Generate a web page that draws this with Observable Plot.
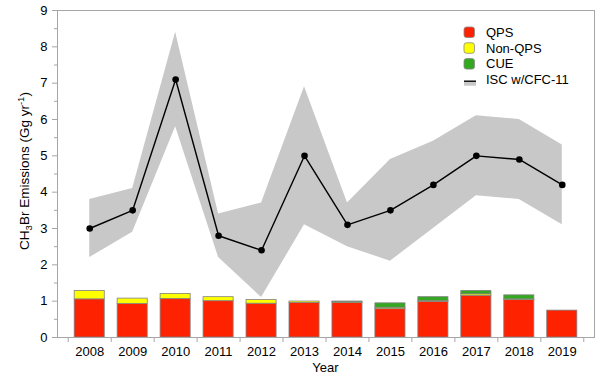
<!DOCTYPE html>
<html>
<head>
<meta charset="utf-8">
<script src="https://cdn.jsdelivr.net/npm/d3@7"></script>
<script src="https://cdn.jsdelivr.net/npm/@observablehq/plot@0.6"></script>
<style>
  html, body { margin: 0; padding: 0; background: #fff; }
  #chart { position: relative; width: 600px; height: 378px; }
</style>
</head>
<body>
<div id="chart"></div>
<script>
const years = [2008, 2009, 2010, 2011, 2012, 2013, 2014, 2015, 2016, 2017, 2018, 2019];
const iscMean = [3.0, 3.5, 7.1, 2.8, 2.4, 5.0, 3.1, 3.5, 4.2, 5.0, 4.9, 4.2];
const iscHigh = [3.8, 4.1, 8.4, 3.4, 3.7, 6.9, 3.7, 4.9, 5.4, 6.1, 6.0, 5.3];
const iscLow  = [2.2, 2.9, 5.8, 2.2, 1.1, 3.1, 2.5, 2.1, 3.0, 3.9, 3.8, 3.1];
const qps     = [1.05, 0.92, 1.06, 1.00, 0.93, 0.95, 0.95, 0.78, 0.98, 1.15, 1.03, 0.74];
const nonQps  = [0.23, 0.15, 0.14, 0.11, 0.10, 0.04, 0.03, 0.04, 0.03, 0.04, 0.02, 0.00];
const cue     = [0.00, 0.00, 0.00, 0.00, 0.00, 0.00, 0.01, 0.12, 0.10, 0.09, 0.11, 0.00];
const categories = ["QPS", "Non-QPS", "CUE"];
const colors = ["#ff2200", "#ffff00", "#33a820"];
const yTicks = [0, 1, 2, 3, 4, 5, 6, 7, 8, 9];

const isc = years.map((y, i) => ({year: y, mean: iscMean[i], lo: iscLow[i], hi: iscHigh[i]}));
const stacked = [];
years.forEach((y, i) => {
  let base = 0;
  [qps[i], nonQps[i], cue[i]].forEach((v, k) => {
    if (v > 0) stacked.push({year: y, type: categories[k], y1: base, y2: base + v});
    base += v;
  });
});
const halfW = 0.35;
const bounds = years.map(y => y - 0.5).concat([years[years.length - 1] + 0.5]);
const minorY = yTicks.slice(0, -1).map(t => t + 0.5);

const plot = Plot.plot({
  width: 600,
  height: 378,
  marginLeft: 57,
  marginRight: 6,
  marginTop: 10,
  marginBottom: 41,
  style: {fontFamily: "'Liberation Sans', Arial, sans-serif", fontSize: "13px", background: "#fff"},
  x: {type: "linear", domain: [2007.25, 2019.75]},
  y: {domain: [0, 9]},
  color: {domain: categories, range: colors},
  marks: [
    Plot.areaY(isc, {x: "year", y1: "lo", y2: "hi", fill: "#c8c8c8"}),
    Plot.line(isc, {x: "year", y: "mean", stroke: "black", strokeWidth: 1.4}),
    Plot.dot(isc, {x: "year", y: "mean", r: 3.3, fill: "black", stroke: "none"}),
    Plot.rect(stacked, {x1: d => d.year - halfW, x2: d => d.year + halfW, y1: "y1", y2: "y2", fill: "type", stroke: "#808080", strokeWidth: 0.8}),
    Plot.frame({stroke: "#a6a6a6"}),
    Plot.axisY({ticks: yTicks, tickSize: 5, tickPadding: 5, stroke: "#a6a6a6", fill: "black", label: null, fontSize: 13}),
    Plot.axisY({ticks: minorY, tickSize: 3, stroke: "#a6a6a6", tickFormat: () => "", label: null}),
    Plot.axisX({ticks: bounds, tickSize: 5, stroke: "#a6a6a6", tickFormat: () => "", label: null}),
    Plot.axisX({ticks: years, tickSize: 0, tickPadding: 9, tickFormat: d => String(d), fill: "black", label: null, fontSize: 13})
  ]
});
document.getElementById("chart").appendChild(plot);

const svg = d3.select(plot);
const font = "'Liberation Sans', Arial, sans-serif";
// x title
svg.append("text").attr("x", 325.5).attr("y", 372).attr("text-anchor", "middle")
  .attr("font-family", font).attr("font-size", 13).attr("fill", "black").text("Year");
// y title with subscript/superscript
const yt = svg.append("text").attr("transform", "translate(29,171) rotate(-90)")
  .attr("text-anchor", "middle").attr("font-family", font).attr("font-size", 13.5).attr("fill", "black");
yt.append("tspan").text("CH");
yt.append("tspan").attr("font-size", 9.5).attr("dy", 3).text("3");
yt.append("tspan").attr("dy", -3).text("Br Emissions (Gg yr");
yt.append("tspan").attr("font-size", 9.5).attr("dy", -5).text("-1");
yt.append("tspan").attr("dy", 5).text(")");

// legend
const lg = svg.append("g").attr("font-family", font).attr("font-size", 13).attr("text-anchor", "start");
const lx = 464, ly0 = 32.3, ldy = 15.8;
categories.forEach((c, i) => {
  const cy = ly0 + i * ldy;
  lg.append("rect").attr("x", lx).attr("y", cy - 5.3).attr("width", 10.5).attr("height", 10.5)
    .attr("rx", 2.5).attr("fill", colors[i]).attr("stroke", "#888").attr("stroke-width", 0.8);
  lg.append("text").attr("x", 486).attr("y", cy).attr("dy", "0.35em").attr("fill", "black").text(c);
});
const iy = ly0 + 3 * ldy + 2;
lg.append("rect").attr("x", lx).attr("y", iy).attr("width", 12).attr("height", 4).attr("fill", "#c8c8c8");
lg.append("line").attr("x1", lx).attr("x2", lx + 12).attr("y1", iy - 0.5).attr("y2", iy - 0.5).attr("stroke", "black").attr("stroke-width", 1.4);
lg.append("text").attr("x", 486).attr("y", iy).attr("dy", "0.2em").attr("fill", "black").text("ISC w/CFC-11");
</script>
</body>
</html>
